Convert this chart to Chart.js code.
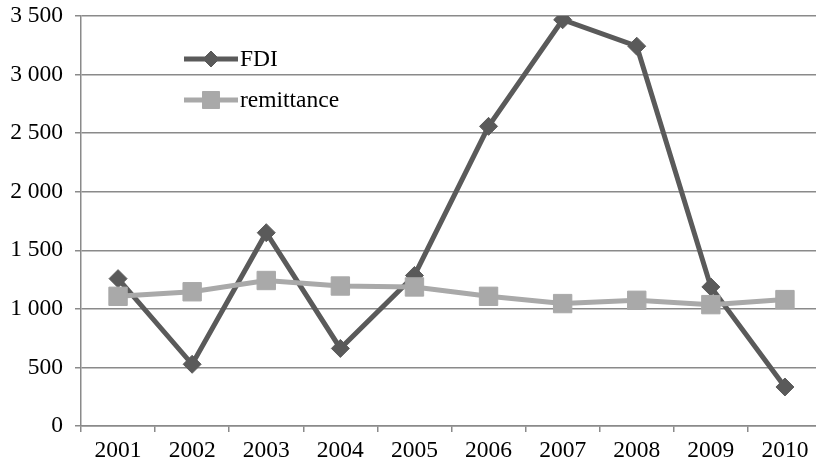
<!DOCTYPE html>
<html>
<head>
<meta charset="utf-8">
<script src="https://cdn.jsdelivr.net/npm/chart.js@4/dist/chart.umd.min.js"></script>
<style>
  html, body { margin: 0; padding: 0; background: #fff; overflow: hidden; }
  canvas { display: block; }
</style>
</head>
<body>
<!-- wider than the window on purpose: the reference crops the last category -->
<canvas id="chart" width="836" height="466" style="width:836px;height:466px"></canvas>
<script>
const years = ['2001', '2002', '2003', '2004', '2005', '2006', '2007', '2008', '2009', '2010'];
const fdi = [1258, 527, 1650, 662, 1285, 2558, 3468, 3242, 1187, 333];
const remittance = [1107, 1146, 1242, 1195, 1187, 1107, 1045, 1073, 1036, 1079];
const seriesNames = ['FDI', 'remittance'];

const FONT = 'Liberation Serif, Times New Roman, serif';
const FONT_SIZE = 23.5;
const GRID = '#8a8a8a';

function fmt(v) {
  if (v >= 1000) return Math.floor(v / 1000) + ' ' + String(v % 1000).padStart(3, '0');
  return String(v);
}

// legend drawn inside the plot, Excel style (line + marker + label)
const insideLegend = {
  id: 'insideLegend',
  afterDraw(chart) {
    const ctx = chart.ctx;
    const rows = [59, 100];
    chart.data.datasets.forEach((ds, i) => {
      const y = rows[i];
      ctx.save();
      ctx.strokeStyle = ds.borderColor;
      ctx.lineWidth = ds.borderWidth;
      ctx.beginPath();
      ctx.moveTo(184, y);
      ctx.lineTo(238, y);
      ctx.stroke();
      ctx.fillStyle = ds.pointBackgroundColor;
      ctx.strokeStyle = ds.pointBorderColor;
      ctx.lineWidth = 1;
      Chart.helpers.drawPoint(ctx, {
        pointStyle: ds.pointStyle,
        radius: ds.legendRadius,
        borderWidth: 1,
        rotation: 0
      }, 211, y);
      ctx.fillStyle = '#000';
      ctx.font = FONT_SIZE + 'px ' + FONT;
      ctx.textBaseline = 'middle';
      ctx.fillText(seriesNames[i], 240, y + 1);
      ctx.restore();
    });
  }
};

// drop the extra room chart.js keeps for overhanging tick labels
function noOverhang(scale) {
  scale.paddingTop = 0;
  scale.paddingBottom = 0;
  scale.paddingLeft = 0;
  scale.paddingRight = 0;
}

const ctx = document.getElementById('chart').getContext('2d');
new Chart(ctx, {
  type: 'line',
  data: {
    labels: years,
    datasets: [
      {
        label: seriesNames[0],
        data: fdi,
        borderColor: '#5a5a5a',
        borderWidth: 5,
        pointStyle: 'rectRot',
        pointRadius: 9,
        legendRadius: 8,
        pointBackgroundColor: '#5a5a5a',
        pointBorderColor: '#5a5a5a',
        pointBorderWidth: 1,
        tension: 0,
        order: 1
      },
      {
        label: seriesNames[1],
        data: remittance,
        borderColor: '#a9a9a9',
        borderWidth: 5,
        pointStyle: 'rect',
        pointRadius: 13,
        legendRadius: 12,
        pointBackgroundColor: '#a9a9a9',
        pointBorderColor: '#a9a9a9',
        pointBorderWidth: 1,
        tension: 0,
        order: 0
      }
    ]
  },
  options: {
    responsive: false,
    animation: false,
    layout: { padding: { top: 16, right: 0, bottom: 0, left: 0 } },
    plugins: {
      legend: { display: false },
      tooltip: { enabled: false }
    },
    scales: {
      x: {
        offset: true,
        grid: {
          offset: true,
          drawOnChartArea: false,
          drawTicks: true,
          tickLength: 6,
          color: GRID,
          lineWidth: 1.5
        },
        border: { display: true, color: GRID, width: 1.5 },
        ticks: {
          color: '#000',
          padding: 5,
          maxRotation: 0,
          font: { family: FONT, size: FONT_SIZE }
        },
        afterFit(scale) { scale.height = 40; noOverhang(scale); }
      },
      y: {
        min: 0,
        max: 3500,
        ticks: {
          stepSize: 500,
          color: '#000',
          padding: 12,
          font: { family: FONT, size: FONT_SIZE },
          callback: v => fmt(v)
        },
        grid: {
          color: GRID,
          lineWidth: 1.5,
          tickLength: 6
        },
        border: { display: true, color: GRID, width: 1.5 },
        afterFit(scale) { scale.width = 81; noOverhang(scale); }
      }
    }
  },
  plugins: [insideLegend]
});
</script>
</body>
</html>
